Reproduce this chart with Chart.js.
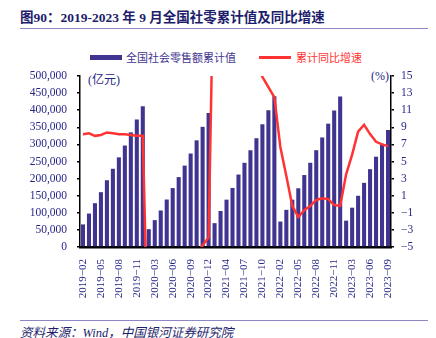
<!DOCTYPE html>
<html><head><meta charset="utf-8">
<script src="https://cdn.jsdelivr.net/npm/chart.js@4"></script>
<style>
html,body{margin:0;padding:0;background:#fff;width:436px;height:338px;overflow:hidden;}
#wrap{position:relative;width:436px;height:338px;font-family:"Liberation Serif","Noto Sans CJK SC",serif;color:#262686;}
canvas{position:absolute;left:0;top:0;}
.t{position:absolute;white-space:nowrap;}
</style></head>
<body><div id="wrap">
<div class="t" style="left:20px;top:6px;font-size:13.5px;font-weight:bold;color:#1d1d6b;">图90：2019-2023 年 9 月全国社零累计值及同比增速</div>
<div style="position:absolute;left:20px;top:28px;width:408px;height:1px;background:#8c87c4;"></div>
<div style="position:absolute;left:90px;top:55px;width:32px;height:5px;background:#3f3590;"></div>
<div class="t" style="left:126px;top:49px;font-size:11px;color:#3f3590;">全国社会零售额累计值</div>
<div style="position:absolute;left:259px;top:56px;width:32px;height:3px;background:#ff3333;"></div>
<div class="t" style="left:296px;top:49px;font-size:11px;color:#ff3333;">累计同比增速</div>
<div class="t" style="left:88px;top:70px;font-size:12px;">(亿元)</div>
<div class="t" style="left:371px;top:69px;font-size:12px;">(%)</div>
<div style="position:absolute;left:20px;top:320px;width:408px;height:1px;background:#8c87c4;"></div>
<div class="t" style="left:20px;top:322px;font-size:12.5px;font-style:italic;color:#1d1d6b;">资料来源：Wind，中国银河证券研究院</div>
<canvas id="c" width="436" height="338"></canvas>
</div>
<script>
const categories = [
 "2019-02","2019-03","2019-04","2019-05","2019-06","2019-07","2019-08","2019-09","2019-10","2019-11","2019-12",
 "2020-02","2020-03","2020-04","2020-05","2020-06","2020-07","2020-08","2020-09","2020-10","2020-11","2020-12",
 "2021-02","2021-03","2021-04","2021-05","2021-06","2021-07","2021-08","2021-09","2021-10","2021-11","2021-12",
 "2022-02","2022-03","2022-04","2022-05","2022-06","2022-07","2022-08","2022-09","2022-10","2022-11","2022-12",
 "2023-02","2023-03","2023-04","2023-05","2023-06","2023-07","2023-08","2023-09"];
const retailCumulative = [
 66064,97790,128119,160346,195210,228713,262178,296674,335201,372872,411649,
 52130,78580,106758,138854,172256,204459,237971,273324,311871,351350,391981,
 69737,105221,138482,172721,211904,246210,282867,318057,358848,399556,440823,
 74426,108659,138318,171689,210432,246330,283060,320305,360575,399190,439733,
 77067,114922,149833,187636,227588,263975,301737,342107];
const yoyGrowth = [
 8.2,8.3,8.0,8.1,8.4,8.3,8.2,8.2,8.1,8.0,8.0,
 -20.5,-19.0,-16.2,-13.5,-11.4,-9.9,-8.6,-7.2,-5.9,-4.8,-3.9,
 33.8,33.9,29.6,25.7,23.0,20.7,18.1,16.4,14.9,13.7,12.5,
 6.7,3.3,-0.2,-1.5,-0.7,-0.2,0.5,0.7,0.6,-0.1,-0.2,
 3.5,5.8,8.5,9.3,8.2,7.3,7.0,6.8];
const leftTicks = {min:0,max:500000,step:50000};
const rightTicks = {min:-5,max:15,step:2};

const txt = '#262686';
const fnt = {family:'"Liberation Serif","Noto Sans CJK SC",serif', size:11.5};
new Chart(document.getElementById('c'), {
  data:{
    labels:categories,
    datasets:[
      {type:'line',label:'累计同比增速',data:yoyGrowth,yAxisID:'y1',borderColor:'#ff3333',borderWidth:2.5,pointRadius:0,tension:0,order:0},
      {type:'bar',label:'全国社会零售额累计值',data:retailCumulative,yAxisID:'y',backgroundColor:'#3f3590',barPercentage:0.68,categoryPercentage:1,order:1}
    ]
  },
  options:{
    responsive:false,animation:false,
    layout:{padding:{top:76,left:0,right:0,bottom:0}},
    plugins:{legend:{display:false},tooltip:{enabled:false}},
    scales:{
      x:{
        grid:{display:false},
        border:{display:true,color:'#000',width:2.5},
        ticks:{autoSkip:false,maxRotation:90,minRotation:90,color:txt,font:{...fnt,size:11},padding:4,
          callback:function(v,i){return i%3===0?categories[i].replace('-','−'):'';}},
        afterFit:s=>{s.height=91;}
      },
      y:{
        position:'left',min:leftTicks.min,max:leftTicks.max,
        grid:{drawOnChartArea:false,color:'#000',tickLength:3,lineWidth:1.5},
        border:{display:true,color:'#000',width:1.5},
        ticks:{stepSize:leftTicks.step,color:txt,font:fnt,padding:10,
          callback:v=>v.toLocaleString('en-US')},
        afterFit:s=>{s.width=80;}
      },
      y1:{
        position:'right',min:rightTicks.min,max:rightTicks.max,
        grid:{drawOnChartArea:false,color:'#000',tickLength:3,lineWidth:1.5},
        border:{display:true,color:'#000',width:1.5},
        ticks:{stepSize:rightTicks.step,color:txt,font:fnt,padding:7,
          callback:v=>v<0?'−'+Math.abs(v):String(v)},
        afterFit:s=>{s.width=45;}
      }
    }
  }
});
</script>
</body></html>
